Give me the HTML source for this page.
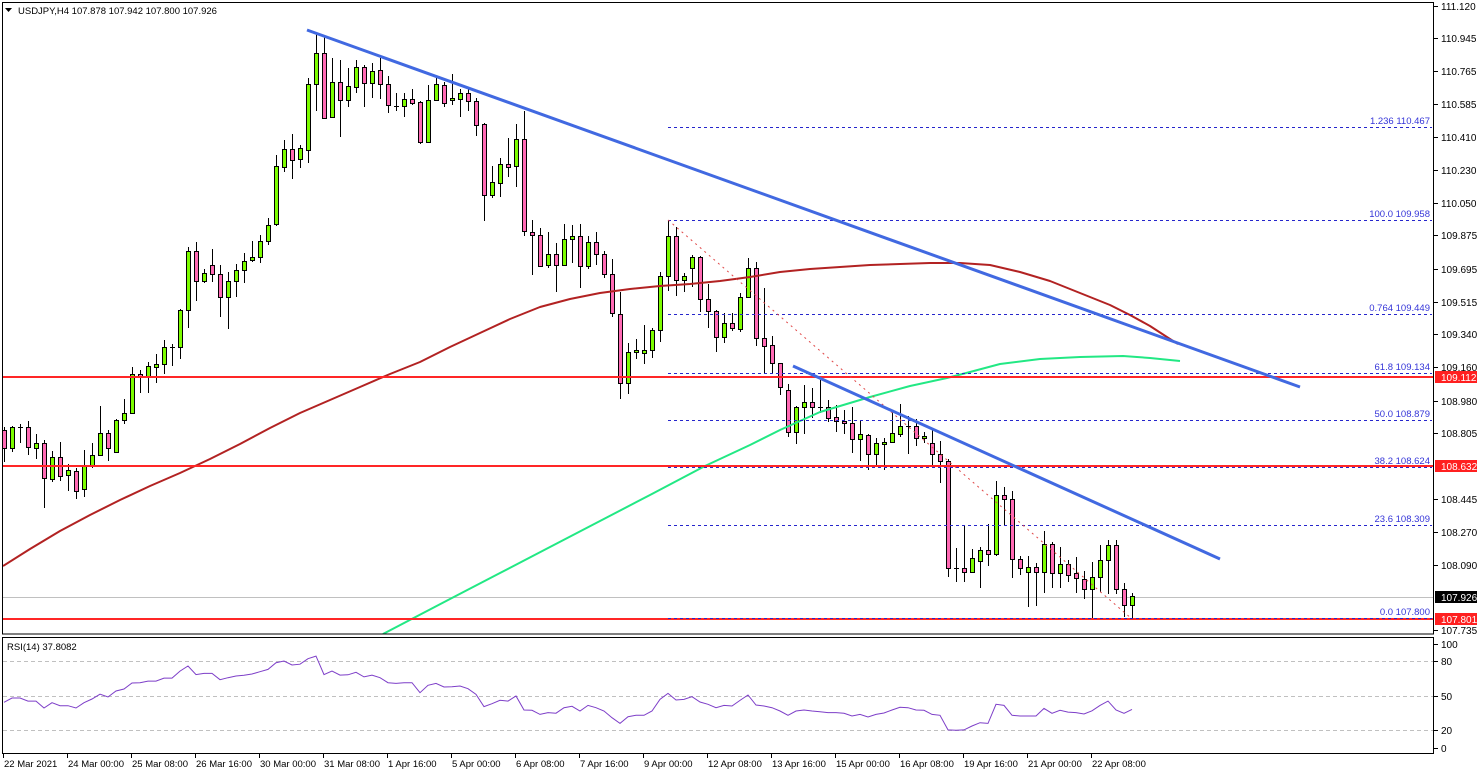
<!DOCTYPE html>
<html><head><meta charset="utf-8"><style>
html,body{margin:0;padding:0;background:#fff;}
svg{display:block;}
text{font-family:"Liberation Sans",Arial,sans-serif;}
</style></head><body>
<svg width="1480" height="775" viewBox="0 0 1480 775" xmlns="http://www.w3.org/2000/svg">
<defs>
<clipPath id="cm"><rect x="3" y="3" width="1431" height="631"/></clipPath>
<clipPath id="cr"><rect x="3" y="638" width="1431" height="115"/></clipPath>
</defs>
<rect width="1480" height="775" fill="#fff"/>
<g clip-path="url(#cm)">
<path d="M3 597.5H1434" stroke="#c0c0c0" stroke-width="1"/>
<path stroke="#000" stroke-width="1" fill="none" d="M4.5 427V462M12.5 426V452M20.5 424V443M28.5 421V455M36.5 434V459M44.5 440V508M52.5 451V482M60.5 442V481M68.5 464V491M76.5 468V499M84.5 450V497M92.5 443V468M100.5 406V455M108.5 430V461M116.5 419V452M124.5 399V424M132.5 367V413M140.5 370V393M148.5 362V393M156.5 354V383M164.5 340V374M172.5 344V366M180.5 309V359M188.5 247V328M196.5 242V301M204.5 269V283M212.5 249V282M220.5 265V317M228.5 272V329M236.5 264V297M244.5 253V283M252.5 241V262M260.5 235V263M268.5 218V245M276.5 155V226M284.5 140V172M292.5 134V179M300.5 145V168M308.5 78V163M316.5 33V111M324.5 37V118M332.5 58V117M340.5 60V137M348.5 68V107M356.5 60V93M364.5 65V107M372.5 63V98M380.5 58V99M388.5 76V113M396.5 93V111M404.5 93V117M412.5 89V105M420.5 101V144M428.5 85V142M436.5 78V100M444.5 82V107M452.5 74V105M460.5 89V117M468.5 89V111M476.5 98V136M484.5 123V221M492.5 166V198M500.5 158V197M508.5 138V177M516.5 124V187M524.5 111V236M532.5 220V275M540.5 228V267M548.5 232V268M556.5 243V292M564.5 224V265M572.5 225V263M580.5 224V288M588.5 236V269M596.5 232V265M604.5 251V278M612.5 259V317M620.5 292V399M628.5 343V394M636.5 339V359M644.5 325V364M652.5 328V358M660.5 272V342M668.5 220V291M676.5 227V296M684.5 273V292M692.5 255V287M700.5 256V312M708.5 284V328M716.5 310V352M724.5 313V343M732.5 313V331M740.5 293V332M748.5 258V298M756.5 262V346M764.5 288V374M772.5 336V374M780.5 363V395M788.5 384V437M796.5 406V444M804.5 385V434M812.5 388V418M820.5 380V413M828.5 400V422M836.5 405V432M844.5 410V434M852.5 407V453M860.5 421V461M868.5 434V470M876.5 438V466M884.5 438V470M892.5 412V442M900.5 404V437M908.5 416V454M916.5 419V446M924.5 432V443M932.5 430V465M940.5 441V483M948.5 459V577M956.5 548V582M964.5 526V582M972.5 549V573M980.5 547V588M988.5 524V566M996.5 481V556M1004.5 487V525M1012.5 491V578M1020.5 556V575M1028.5 556V607M1036.5 563V606M1044.5 531V593M1052.5 542V588M1060.5 547V588M1068.5 560V582M1076.5 557V593M1084.5 571V599M1092.5 562V618M1100.5 545V592M1108.5 540V594M1116.5 540V594M1124.5 583V617M1132.5 593V619"/>
<path stroke="#000" stroke-width="1" d="M18 427.5h5M170 347.5h5M394 106.5h5M818 407.5h5M906 426.5h5M954 568.5h5"/>
<g fill="#7cfc00" stroke="#000" stroke-width="1">
<rect x="10.5" y="427.5" width="4" height="21"/>
<rect x="34.5" y="443.5" width="4" height="5"/>
<rect x="50.5" y="457.5" width="4" height="22"/>
<rect x="66.5" y="470.5" width="4" height="5"/>
<rect x="82.5" y="466.5" width="4" height="23"/>
<rect x="90.5" y="455.5" width="4" height="11"/>
<rect x="98.5" y="433.5" width="4" height="22"/>
<rect x="114.5" y="420.5" width="4" height="32"/>
<rect x="122.5" y="413.5" width="4" height="7"/>
<rect x="130.5" y="374.5" width="4" height="39"/>
<rect x="146.5" y="366.5" width="4" height="10"/>
<rect x="154.5" y="364.5" width="4" height="3"/>
<rect x="162.5" y="347.5" width="4" height="17"/>
<rect x="178.5" y="310.5" width="4" height="37"/>
<rect x="186.5" y="251.5" width="4" height="59"/>
<rect x="202.5" y="273.5" width="4" height="8"/>
<rect x="226.5" y="281.5" width="4" height="16"/>
<rect x="234.5" y="270.5" width="4" height="11"/>
<rect x="242.5" y="261.5" width="4" height="9"/>
<rect x="250.5" y="257.5" width="4" height="3"/>
<rect x="258.5" y="241.5" width="4" height="16"/>
<rect x="266.5" y="225.5" width="4" height="16"/>
<rect x="274.5" y="166.5" width="4" height="58"/>
<rect x="282.5" y="149.5" width="4" height="18"/>
<rect x="298.5" y="148.5" width="4" height="11"/>
<rect x="306.5" y="84.5" width="4" height="66"/>
<rect x="314.5" y="53.5" width="4" height="31"/>
<rect x="330.5" y="82.5" width="4" height="35"/>
<rect x="346.5" y="86.5" width="4" height="14"/>
<rect x="354.5" y="67.5" width="4" height="20"/>
<rect x="370.5" y="71.5" width="4" height="12"/>
<rect x="402.5" y="99.5" width="4" height="7"/>
<rect x="426.5" y="100.5" width="4" height="42"/>
<rect x="434.5" y="84.5" width="4" height="16"/>
<rect x="450.5" y="98.5" width="4" height="2"/>
<rect x="458.5" y="93.5" width="4" height="6"/>
<rect x="490.5" y="182.5" width="4" height="13"/>
<rect x="498.5" y="164.5" width="4" height="19"/>
<rect x="514.5" y="139.5" width="4" height="27"/>
<rect x="546.5" y="254.5" width="4" height="11"/>
<rect x="562.5" y="239.5" width="4" height="26"/>
<rect x="570.5" y="236.5" width="4" height="3"/>
<rect x="586.5" y="242.5" width="4" height="24"/>
<rect x="626.5" y="352.5" width="4" height="31"/>
<rect x="634.5" y="350.5" width="4" height="2"/>
<rect x="642.5" y="350.5" width="4" height="3"/>
<rect x="650.5" y="330.5" width="4" height="20"/>
<rect x="658.5" y="276.5" width="4" height="54"/>
<rect x="666.5" y="236.5" width="4" height="40"/>
<rect x="682.5" y="276.5" width="4" height="4"/>
<rect x="690.5" y="257.5" width="4" height="11"/>
<rect x="722.5" y="323.5" width="4" height="14"/>
<rect x="738.5" y="297.5" width="4" height="32"/>
<rect x="746.5" y="268.5" width="4" height="29"/>
<rect x="794.5" y="407.5" width="4" height="25"/>
<rect x="802.5" y="402.5" width="4" height="5"/>
<rect x="858.5" y="434.5" width="4" height="5"/>
<rect x="874.5" y="443.5" width="4" height="11"/>
<rect x="882.5" y="442.5" width="4" height="2"/>
<rect x="890.5" y="433.5" width="4" height="9"/>
<rect x="898.5" y="426.5" width="4" height="8"/>
<rect x="922.5" y="436.5" width="4" height="2"/>
<rect x="970.5" y="558.5" width="4" height="14"/>
<rect x="978.5" y="550.5" width="4" height="11"/>
<rect x="994.5" y="495.5" width="4" height="59"/>
<rect x="1026.5" y="567.5" width="4" height="5"/>
<rect x="1042.5" y="544.5" width="4" height="28"/>
<rect x="1058.5" y="564.5" width="4" height="9"/>
<rect x="1090.5" y="577.5" width="4" height="12"/>
<rect x="1098.5" y="560.5" width="4" height="17"/>
<rect x="1106.5" y="545.5" width="4" height="15"/>
<rect x="1130.5" y="596.5" width="4" height="9"/>
</g>
<g fill="#ff69b4" stroke="#000" stroke-width="1">
<rect x="2.5" y="430.5" width="4" height="18"/>
<rect x="26.5" y="427.5" width="4" height="20"/>
<rect x="42.5" y="443.5" width="4" height="35"/>
<rect x="58.5" y="457.5" width="4" height="19"/>
<rect x="74.5" y="471.5" width="4" height="20"/>
<rect x="106.5" y="433.5" width="4" height="15"/>
<rect x="138.5" y="374.5" width="4" height="2"/>
<rect x="194.5" y="251.5" width="4" height="30"/>
<rect x="210.5" y="265.5" width="4" height="9"/>
<rect x="218.5" y="274.5" width="4" height="23"/>
<rect x="290.5" y="149.5" width="4" height="11"/>
<rect x="322.5" y="53.5" width="4" height="65"/>
<rect x="338.5" y="82.5" width="4" height="18"/>
<rect x="362.5" y="67.5" width="4" height="16"/>
<rect x="378.5" y="70.5" width="4" height="14"/>
<rect x="386.5" y="84.5" width="4" height="21"/>
<rect x="410.5" y="99.5" width="4" height="4"/>
<rect x="418.5" y="102.5" width="4" height="40"/>
<rect x="442.5" y="85.5" width="4" height="18"/>
<rect x="466.5" y="93.5" width="4" height="8"/>
<rect x="474.5" y="101.5" width="4" height="24"/>
<rect x="482.5" y="124.5" width="4" height="71"/>
<rect x="506.5" y="164.5" width="4" height="3"/>
<rect x="522.5" y="139.5" width="4" height="92"/>
<rect x="530.5" y="232.5" width="4" height="3"/>
<rect x="538.5" y="235.5" width="4" height="31"/>
<rect x="554.5" y="254.5" width="4" height="11"/>
<rect x="578.5" y="236.5" width="4" height="30"/>
<rect x="594.5" y="242.5" width="4" height="12"/>
<rect x="602.5" y="254.5" width="4" height="20"/>
<rect x="610.5" y="274.5" width="4" height="39"/>
<rect x="618.5" y="314.5" width="4" height="69"/>
<rect x="674.5" y="236.5" width="4" height="44"/>
<rect x="698.5" y="257.5" width="4" height="42"/>
<rect x="706.5" y="299.5" width="4" height="12"/>
<rect x="714.5" y="311.5" width="4" height="26"/>
<rect x="730.5" y="323.5" width="4" height="5"/>
<rect x="754.5" y="268.5" width="4" height="70"/>
<rect x="762.5" y="338.5" width="4" height="8"/>
<rect x="770.5" y="345.5" width="4" height="18"/>
<rect x="778.5" y="363.5" width="4" height="24"/>
<rect x="786.5" y="390.5" width="4" height="42"/>
<rect x="810.5" y="402.5" width="4" height="5"/>
<rect x="826.5" y="407.5" width="4" height="11"/>
<rect x="834.5" y="417.5" width="4" height="4"/>
<rect x="842.5" y="421.5" width="4" height="2"/>
<rect x="850.5" y="423.5" width="4" height="16"/>
<rect x="866.5" y="435.5" width="4" height="19"/>
<rect x="914.5" y="426.5" width="4" height="12"/>
<rect x="930.5" y="443.5" width="4" height="11"/>
<rect x="938.5" y="454.5" width="4" height="7"/>
<rect x="946.5" y="461.5" width="4" height="107"/>
<rect x="962.5" y="568.5" width="4" height="4"/>
<rect x="986.5" y="550.5" width="4" height="4"/>
<rect x="1002.5" y="495.5" width="4" height="4"/>
<rect x="1010.5" y="499.5" width="4" height="60"/>
<rect x="1018.5" y="559.5" width="4" height="9"/>
<rect x="1034.5" y="567.5" width="4" height="5"/>
<rect x="1050.5" y="544.5" width="4" height="29"/>
<rect x="1066.5" y="564.5" width="4" height="11"/>
<rect x="1074.5" y="573.5" width="4" height="5"/>
<rect x="1082.5" y="579.5" width="4" height="10"/>
<rect x="1114.5" y="545.5" width="4" height="44"/>
<rect x="1122.5" y="589.5" width="4" height="16"/>
</g>
<polyline fill="none" stroke="#b22222" stroke-width="2" stroke-linejoin="round" points="3,566 30,549 60,531 90,515 120,500 150,486 180,473 210,459 240,444 270,428 300,413 330,400 360,387 390,374 420,362 450,347 480,333 510,319 540,307 570,299 600,293 630,289 660,286 690,284 720,281 750,277 780,272 810,269 840,267 870,265 900,264 930,263 960,263 990,265 1020,272 1050,281 1080,293 1110,305 1130,315 1150,326 1170,339 1178,344"/>
<polyline fill="none" stroke="#22e884" stroke-width="2" stroke-linejoin="round" points="383,634 450,599 500,573 550,547 600,521 650,495 705,466 750,445 780,430 820,412 870,397 910,386 947,378 970,372 1000,364 1040,359 1080,357 1123,356 1150,358 1180,361"/>
<g stroke="#ff2626" stroke-width="2">
<path d="M3 377H1434"/>
<path d="M3 466H1434"/>
<path d="M3 619H1434"/>
</g>
<g stroke="#2626cc" stroke-width="1" stroke-dasharray="3,3">
<path d="M668 127.5H1432"/>
<path d="M668 220.5H1432"/>
<path d="M668 314.5H1432"/>
<path d="M668 373.5H1432"/>
<path d="M668 420.5H1432"/>
<path d="M668 467.5H1432"/>
<path d="M668 525.5H1432"/>
<path d="M668 618.5H1432"/>
</g>
<path d="M668 220L1132 619" stroke="#e04848" stroke-width="1" stroke-dasharray="2,4" fill="none"/>
<g font-size="9.5" fill="#3535d8" text-anchor="end">
<text x="1430" y="124">1.236 110.467</text>
<text x="1430" y="217">100.0 109.958</text>
<text x="1430" y="311">0.764 109.449</text>
<text x="1430" y="370">61.8 109.134</text>
<text x="1430" y="417">50.0 108.879</text>
<text x="1430" y="464">38.2 108.624</text>
<text x="1430" y="522">23.6 108.309</text>
<text x="1430" y="615">0.0 107.800</text>
</g>
<g stroke="#4169e1" stroke-width="3" stroke-linecap="butt">
<path d="M307 30L1300 387"/>
<path d="M793 366L1220 559"/>
</g>
</g>
<g clip-path="url(#cr)">
<g stroke="#c0c0c0" stroke-width="1" stroke-dasharray="4,3">
<path d="M3 661.5H1434"/>
<path d="M3 696.5H1434"/>
<path d="M3 730.5H1434"/>
</g>
<polyline fill="none" stroke="#7d3ec8" stroke-width="1" points="4,702.3 12,698 20,698 28,701.1 36,701.1 44,708 52,702.7 60,705.7 68,705.7 76,708 84,702.7 92,699 100,694.2 108,697 116,691 124,689 132,683 140,682.7 148,681.1 156,681.1 164,678.1 172,678.1 180,671.1 188,666 196,674.6 204,673.4 212,673.4 220,679.7 228,677.7 236,676 244,675.3 252,674 260,671.7 268,669.4 276,662.7 284,661 292,665 300,664.2 308,658.7 316,656.1 324,674.6 332,671.1 340,675.1 348,674.8 356,672.3 364,676.9 372,675.1 380,677.7 388,682.7 396,683.4 404,682.7 412,682.7 420,692.7 428,685.3 436,683.4 444,687 452,686.7 460,686 468,688.7 476,694.3 484,706.6 492,703.7 500,700.3 508,701.1 516,696 524,710 532,710.3 540,714.4 548,712.6 556,713.2 564,707.7 572,706.3 580,711 588,705.4 596,707.7 604,711 612,717.7 620,723.4 628,716.7 636,715.3 644,715.3 652,711 660,699.4 668,693.4 676,700 684,699.4 692,696.7 700,702 708,704.3 716,707.7 724,705.4 732,706 740,700.4 748,695 756,705 764,706 772,707.7 780,711 788,715.3 796,711 804,710 812,711 820,711.7 828,712.6 836,712.6 844,713.3 852,716 860,714.4 868,717 876,714.4 884,713 892,710 900,707.3 908,707.7 916,710 924,710.3 932,714.4 940,715.3 948,729.9 956,730.3 964,729.9 972,726 980,722.7 988,723.4 996,704.3 1004,705.4 1012,715.3 1020,716 1028,716 1036,716 1044,708.4 1052,713.3 1060,710.3 1068,712.1 1076,712.6 1084,714 1092,710.8 1100,705.4 1108,701.1 1116,710 1124,713.3 1132,709.4"/>
</g>
<rect x="2.5" y="2.5" width="1431" height="631.5" fill="none" stroke="#000" stroke-width="1"/>
<rect x="2.5" y="637.5" width="1431" height="116" fill="none" stroke="#000" stroke-width="1"/>
<polygon points="5,8 12,8 8.5,12" fill="#000"/>
<text x="18" y="14" font-size="9.5" fill="#000">USDJPY,H4  107.878 107.942 107.800 107.926</text>
<text x="7" y="650" font-size="9.5" fill="#000">RSI(14) 37.8082</text>
<path stroke="#000" stroke-width="1" d="M1434 6.5h4M1434 38.5h4M1434 71.5h4M1434 104.5h4M1434 137.5h4M1434 170.5h4M1434 203.5h4M1434 235.5h4M1434 269.5h4M1434 302.5h4M1434 334.5h4M1434 367.5h4M1434 401.5h4M1434 433.5h4M1434 499.5h4M1434 532.5h4M1434 565.5h4M1434 630.5h4M1434 644.5h4M1434 661.5h4M1434 696.5h4M1434 730.5h4M1434 748.5h4"/>
<g font-size="10" fill="#000">
<text x="1441" y="10">111.120</text>
<text x="1441" y="42">110.945</text>
<text x="1441" y="75">110.765</text>
<text x="1441" y="108">110.585</text>
<text x="1441" y="141">110.410</text>
<text x="1441" y="174">110.230</text>
<text x="1441" y="207">110.050</text>
<text x="1441" y="239">109.875</text>
<text x="1441" y="273">109.695</text>
<text x="1441" y="306">109.515</text>
<text x="1441" y="338">109.340</text>
<text x="1441" y="371">109.160</text>
<text x="1441" y="405">108.980</text>
<text x="1441" y="437">108.805</text>
<text x="1441" y="503">108.445</text>
<text x="1441" y="536">108.270</text>
<text x="1441" y="569">108.090</text>
<text x="1441" y="634">107.735</text>
<text x="1441" y="648">100</text>
<text x="1441" y="665">80</text>
<text x="1441" y="700">50</text>
<text x="1441" y="734">20</text>
<text x="1441" y="752">0</text>
</g>
<rect x="1435" y="371" width="42" height="12" fill="#ff2020"/>
<rect x="1435" y="460" width="42" height="12" fill="#ff2020"/>
<rect x="1435" y="591" width="42" height="12" fill="#000"/>
<rect x="1435" y="613" width="42" height="12" fill="#ff2020"/>
<g font-size="10" fill="#fff">
<text x="1441" y="381">109.112</text>
<text x="1441" y="470">108.632</text>
<text x="1441" y="601">107.926</text>
<text x="1441" y="623">107.801</text>
</g>
<path stroke="#000" stroke-width="1" d="M3.5 754v4M67.5 754v4M131.5 754v4M195.5 754v4M259.5 754v4M323.5 754v4M387.5 754v4M451.5 754v4M515.5 754v4M579.5 754v4M643.5 754v4M707.5 754v4M771.5 754v4M835.5 754v4M899.5 754v4M963.5 754v4M1027.5 754v4M1091.5 754v4"/>
<g font-size="9.5" fill="#000">
<text x="4" y="767">22 Mar 2021</text>
<text x="68" y="767">24 Mar 00:00</text>
<text x="132" y="767">25 Mar 08:00</text>
<text x="196" y="767">26 Mar 16:00</text>
<text x="260" y="767">30 Mar 00:00</text>
<text x="324" y="767">31 Mar 08:00</text>
<text x="388" y="767">1 Apr 16:00</text>
<text x="452" y="767">5 Apr 00:00</text>
<text x="516" y="767">6 Apr 08:00</text>
<text x="580" y="767">7 Apr 16:00</text>
<text x="644" y="767">9 Apr 00:00</text>
<text x="708" y="767">12 Apr 08:00</text>
<text x="772" y="767">13 Apr 16:00</text>
<text x="836" y="767">15 Apr 00:00</text>
<text x="900" y="767">16 Apr 08:00</text>
<text x="964" y="767">19 Apr 16:00</text>
<text x="1028" y="767">21 Apr 00:00</text>
<text x="1092" y="767">22 Apr 08:00</text>
</g>
</svg>
</body></html>
